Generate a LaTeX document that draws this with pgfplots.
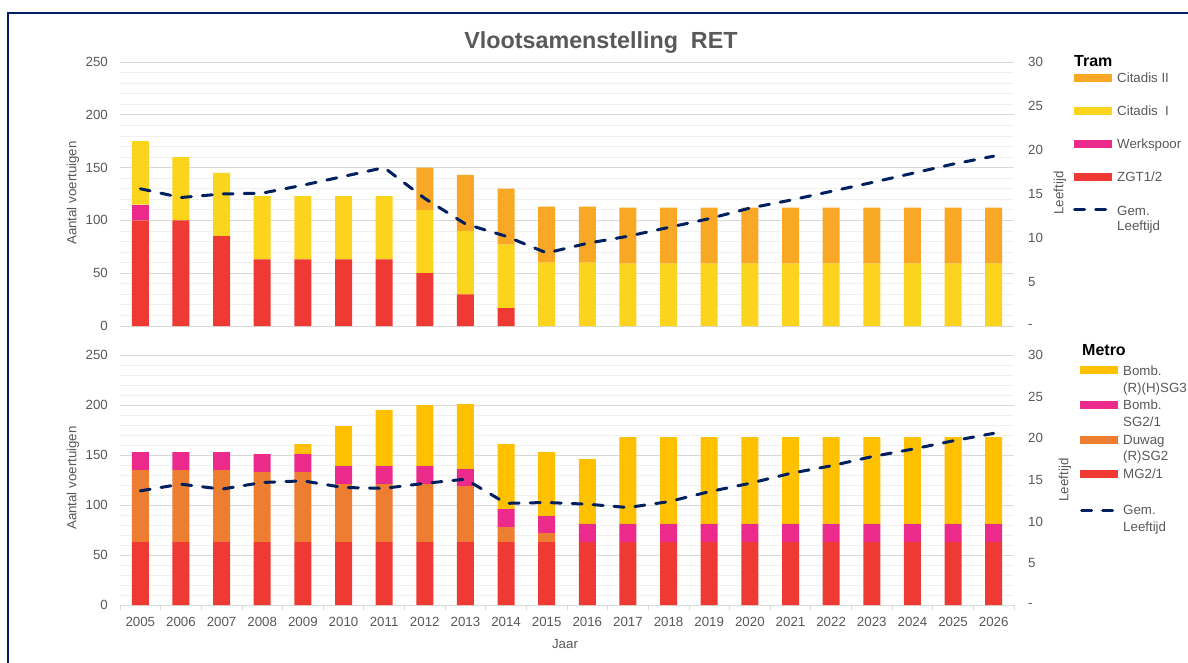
\documentclass[border=0pt]{standalone}
\usepackage{fontspec}
\setmainfont{Liberation Sans}
\usepackage{pgfplots}
\usepackage{pgfplotstable}
\pgfplotsset{compat=1.18}

\definecolor{citII}{RGB}{249,168,38}
\definecolor{citI}{RGB}{253,212,29}
\definecolor{werk}{RGB}{236,42,140}
\definecolor{zgt}{RGB}{239,58,51}
\definecolor{sgthree}{RGB}{255,192,0}
\definecolor{duwag}{RGB}{237,125,49}
\definecolor{navy}{RGB}{0,32,96}
\definecolor{txt}{RGB}{89,89,89}
\definecolor{gridmaj}{RGB}{217,217,217}
\definecolor{gridmin}{RGB}{240,240,240}

\newcommand\lbl{\fontsize{13.3}{15}\selectfont}

% tram: year index, ZGT1/2, Werkspoor, Citadis I, Citadis II, gem. leeftijd
\pgfplotstableread{
i zgt werk citI citII age
0  100 15 60 0  15.6
1  100 0  60 0  14.6
2  85  0  60 0  15.0
3  63  0  60 0  15.1
4  63  0  60 0  16.0
5  63  0  60 0  17.0
6  63  0  60 0  18.0
7  50  0  60 40 14.5
8  30  0  60 53 11.6
9  17  0  60 53 10.2
10 0   0  60 53 8.3
11 0   0  60 53 9.4
12 0   0  59 53 10.2
13 0   0  59 53 11.2
14 0   0  59 53 12.2
15 0   0  59 53 13.4
16 0   0  59 53 14.3
17 0   0  59 53 15.3
18 0   0  59 53 16.3
19 0   0  59 53 17.35
20 0   0  59 53 18.4
21 0   0  59 53 19.3
}\tram

% metro: MG2/1, Duwag (R)SG2, Bomb. SG2/1, Bomb. (R)(H)SG3, gem. leeftijd
\pgfplotstableread{
i mg duwag sgtwo sgthree age
0  63 72 18 0  13.7
1  63 72 18 0  14.5
2  63 72 18 0  13.9
3  63 70 18 0  14.7
4  63 70 18 10 14.9
5  63 58 18 40 14.1
6  63 58 18 56 14.0
7  63 58 18 61 14.6
8  63 56 17 65 15.1
9  63 15 18 65 12.2
10 63 9  17 64 12.3
11 63 0  18 65 12.1
12 63 0  18 87 11.7
13 63 0  18 87 12.4
14 63 0  18 87 13.6
15 63 0  18 87 14.6
16 63 0  18 87 15.8
17 63 0  18 87 16.7
18 63 0  18 87 17.8
19 63 0  18 87 18.7
20 63 0  18 87 19.7
21 63 0  18 87 20.6
}\metro

\tikzset{
  dashline/.style={navy, line width=3pt, dash pattern=on 10pt off 11pt,
    line cap=round, line join=round, mark=none},
}

\pgfplotsset{
  base/.style={
    scale only axis, width=894pt,
    xmin=-0.5, xmax=21.5,
    /pgf/number format/assume math mode=true,
    y axis line style={draw=none},
    ytick style={draw=none}, minor y tick style={draw=none},
    major tick length=0pt,
  },
  fleet/.style={
    base, ymin=0, ymax=250,
    ybar stacked, bar width=17pt,
    ytick={0,50,...,250}, minor ytick={10,20,...,240},
    ymajorgrids, yminorgrids,
    major grid style={draw=gridmaj, line width=0.8pt},
    minor grid style={draw=gridmin, line width=0.8pt},
    axis y line*=left,
    yticklabel style={font=\lbl, text=txt, anchor=east, inner sep=0pt},
    yticklabel shift=12pt,
  },
  age/.style={
    base, ymin=0, ymax=30,
    axis y line*=right, axis x line=none, xtick=\empty,
    ytick={0,5,...,30}, yticklabels={-,5,10,15,20,25,30},
    yticklabel style={font=\lbl, text=txt, anchor=west, inner sep=0pt},
    yticklabel shift=14pt,
  },
}

\newcommand\sw[4]{\fill[#1] (#2pt,{-#4pt+4pt}) rectangle (#3pt,{-#4pt-4pt});}
\newcommand\lt[3]{\node[anchor=base west, inner sep=0pt, font=\lbl, text=txt]
  at (#1pt,{-#2pt-4.7pt}) {#3};}

\begin{document}
\begin{tikzpicture}
\useasboundingbox (0,0) rectangle (1188pt,-662pt);
\fill[white] (0,0) rectangle (1188pt,-662pt);
\draw[navy, line width=2pt] (7.5pt,-663pt) -- (7.5pt,-13pt) -- (1189pt,-13pt);

\node[anchor=base, inner sep=0pt, text=txt, font=\bfseries\fontsize{23.3}{26}\selectfont]
  at (601pt,-48pt) {Vlootsamenstelling~~RET};

% ---- tram ----
\begin{axis}[fleet, height=264pt, at={(120pt,-326pt)}, anchor=south west,
  axis x line*=bottom, x axis line style={draw=none}, xtick=\empty]
  \addplot[fill=zgt, draw=none] table[x=i, y=zgt] {\tram};
  \addplot[fill=werk, draw=none] table[x=i, y=werk] {\tram};
  \addplot[fill=citI, draw=none] table[x=i, y=citI] {\tram};
  \addplot[fill=citII, draw=none] table[x=i, y=citII] {\tram};
\end{axis}
\begin{axis}[age, height=264pt, at={(120pt,-326pt)}, anchor=south west]
  \addplot[dashline] table[x=i, y=age] {\tram};
\end{axis}

% ---- metro ----
\begin{axis}[fleet, height=250pt, at={(120pt,-605pt)}, anchor=south west,
  axis x line*=bottom, x axis line style={draw=gridmaj, line width=0.8pt, -},
  xtick={0,...,21},
  xticklabels={2005,2006,2007,2008,2009,2010,2011,2012,2013,2014,2015,2016,
    2017,2018,2019,2020,2021,2022,2023,2024,2025,2026},
  xticklabel style={font=\lbl, text=txt, anchor=north, inner sep=0pt},
  xticklabel shift=12pt,
  minor xtick={-0.5,0.5,...,21.5}, minor tick length=5pt, tick align=outside,
  minor x tick style={draw=gridmaj, line width=0.8pt}]
  \addplot[fill=zgt, draw=none] table[x=i, y=mg] {\metro};
  \addplot[fill=duwag, draw=none] table[x=i, y=duwag] {\metro};
  \addplot[fill=werk, draw=none] table[x=i, y=sgtwo] {\metro};
  \addplot[fill=sgthree, draw=none] table[x=i, y=sgthree] {\metro};
\end{axis}
\begin{axis}[age, height=250pt, at={(120pt,-605pt)}, anchor=south west]
  \addplot[dashline] table[x=i, y=age] {\metro};
\end{axis}

% axis titles
\node[rotate=90, font=\lbl, text=txt] at (73pt,-193pt) {Aantal voertuigen};
\node[rotate=90, font=\lbl, text=txt] at (73pt,-478pt) {Aantal voertuigen};
\node[rotate=90, font=\lbl, text=txt] at (1060pt,-193pt) {Leeftijd};
\node[rotate=90, font=\lbl, text=txt] at (1065pt,-480pt) {Leeftijd};
\node[font=\lbl, text=txt] at (565pt,-644pt) {Jaar};

% legend tram
\node[anchor=base west, inner sep=0pt, font=\bfseries\fontsize{16}{18}\selectfont]
  at (1074pt,-66pt) {Tram};
\sw{citII}{1074}{1112}{77.5} \lt{1117}{77.5}{Citadis II}
\sw{citI}{1074}{1112}{111} \lt{1117}{111}{Citadis~~I}
\sw{werk}{1074}{1112}{144} \lt{1117}{144}{Werkspoor}
\sw{zgt}{1074}{1112}{176.5} \lt{1117}{176.5}{ZGT1/2}
\draw[dashline] (1074.5pt,-209.5pt) -- (1110pt,-209.5pt);
\lt{1117}{211}{Gem.} \lt{1117}{226}{Leeftijd}

% legend metro
\node[anchor=base west, inner sep=0pt, font=\bfseries\fontsize{16}{18}\selectfont]
  at (1082pt,-355.7pt) {Metro};
\sw{sgthree}{1080}{1118}{370} \lt{1123}{371}{Bomb.} \lt{1123}{387.5}{(R)(H)SG3}
\sw{werk}{1080}{1118}{405} \lt{1123}{405}{Bomb.} \lt{1123}{421.5}{SG2/1}
\sw{duwag}{1080}{1118}{439.5} \lt{1123}{439.5}{Duwag} \lt{1123}{456}{(R)SG2}
\sw{zgt}{1080}{1118}{474} \lt{1123}{474}{MG2/1}
\draw[dashline] (1081.5pt,-510pt) -- (1117pt,-510pt);
\lt{1123}{510}{Gem.} \lt{1123}{527}{Leeftijd}
\end{tikzpicture}
\end{document}
